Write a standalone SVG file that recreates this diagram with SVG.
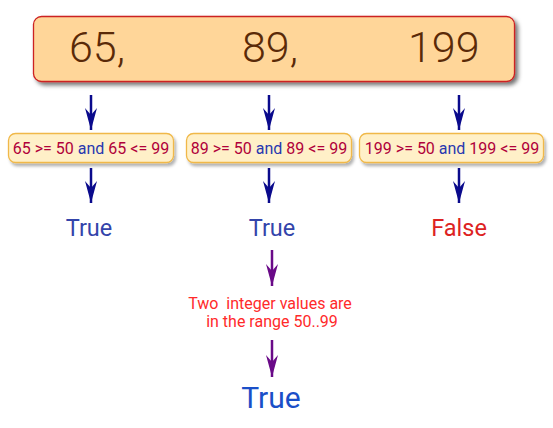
<svg xmlns="http://www.w3.org/2000/svg" width="553" height="428" viewBox="0 0 553 428">
<defs>
<filter id="sh" x="-10%" y="-20%" width="120%" height="150%"><feDropShadow dx="3" dy="3" stdDeviation="2" flood-color="#000" flood-opacity="0.55"/></filter>
<filter id="sh2" x="-10%" y="-30%" width="120%" height="170%"><feDropShadow dx="2" dy="3" stdDeviation="1.5" flood-color="#000" flood-opacity="0.3"/></filter>
<marker id="ab" viewBox="0 0 22 12" refX="22" refY="6" markerWidth="22" markerHeight="12" markerUnits="userSpaceOnUse" orient="auto"><path d="M0,0 L7,6 L0,12 L22,6 Z" fill="#0a0a8c"/></marker>
<marker id="ap" viewBox="0 0 22 12" refX="22" refY="6" markerWidth="22" markerHeight="12" markerUnits="userSpaceOnUse" orient="auto"><path d="M0,0 L7,6 L0,12 L22,6 Z" fill="#6a0a88"/></marker>
<style>
.big{font-family:Roboto,"Liberation Sans",sans-serif;font-weight:300;font-size:43px;fill:#5a2a08}
.cb{fill:#fff0c8;stroke:#f0b848;stroke-width:1.3}
.ct{font-family:Roboto,"Liberation Sans",sans-serif;font-size:16px;fill:#b0003a}
.and{fill:#2838b0}
.res{font-family:Roboto,"Liberation Sans",sans-serif;font-size:23.5px;text-anchor:middle}
.cb-line{stroke:#0a0a8c;stroke-width:2.5;fill:none}
.cp-line{stroke:#6a0a88;stroke-width:2.5;fill:none}
.note{font-family:Roboto,"Liberation Sans",sans-serif;font-size:16px;fill:#ff2a2a;text-anchor:middle}
</style>
</defs>
<g id="values">
<rect x="33.5" y="16.5" width="481" height="65" rx="8" fill="#ffd699" stroke="#cc2020" stroke-width="1.3" filter="url(#sh)"/>
<text class="big" x="69" y="62">65,</text>
<text class="big" x="242" y="62">89,</text>
<text class="big" x="408" y="62">199</text>
</g>
<g id="cond1">
<rect class="cb" x="8.5" y="133.5" width="165" height="29" rx="7" filter="url(#sh2)"/>
<text class="ct" x="91" y="154" text-anchor="middle">65 &gt;= 50 <tspan class="and">and</tspan> 65 &lt;= 99</text>
</g>
<g id="cond2">
<rect class="cb" x="186.5" y="133.5" width="165" height="29" rx="7" filter="url(#sh2)"/>
<text class="ct" x="269" y="154" text-anchor="middle">89 &gt;= 50 <tspan class="and">and</tspan> 89 &lt;= 99</text>
</g>
<g id="cond3">
<rect class="cb" x="359.5" y="133.5" width="184" height="29" rx="7" filter="url(#sh2)"/>
<text class="ct" x="452" y="154" text-anchor="middle">199 &gt;= 50 <tspan class="and">and</tspan> 199 &lt;= 99</text>
</g>
<g id="res1"><text class="res" x="89" y="236" fill="#3344aa">True</text></g>
<g id="res2"><text class="res" x="272" y="236" fill="#3344aa">True</text></g>
<g id="res3"><text class="res" x="459" y="236" fill="#dd2222">False</text></g>
<g id="note">
<text class="note" x="270" y="309">Two&#160; integer values are</text>
<text class="note" x="272" y="327">in the range 50..99</text>
</g>
<g id="final"><text x="271" y="408" font-family="Roboto,'Liberation Sans',sans-serif" font-size="30" fill="#1a4fc8" text-anchor="middle">True</text></g>
<g id="connectors">
<line class="cb-line" x1="91" y1="95" x2="91" y2="130" marker-end="url(#ab)"/>
<line class="cb-line" x1="269" y1="95" x2="269" y2="130" marker-end="url(#ab)"/>
<line class="cb-line" x1="459" y1="95" x2="459" y2="130" marker-end="url(#ab)"/>
<line class="cb-line" x1="91" y1="168" x2="91" y2="203" marker-end="url(#ab)"/>
<line class="cb-line" x1="269" y1="168" x2="269" y2="203" marker-end="url(#ab)"/>
<line class="cb-line" x1="459" y1="168" x2="459" y2="203" marker-end="url(#ab)"/>
<line class="cp-line" x1="272" y1="250" x2="272" y2="286" marker-end="url(#ap)"/>
<line class="cp-line" x1="272" y1="340" x2="272" y2="377" marker-end="url(#ap)"/>
</g>
</svg>
